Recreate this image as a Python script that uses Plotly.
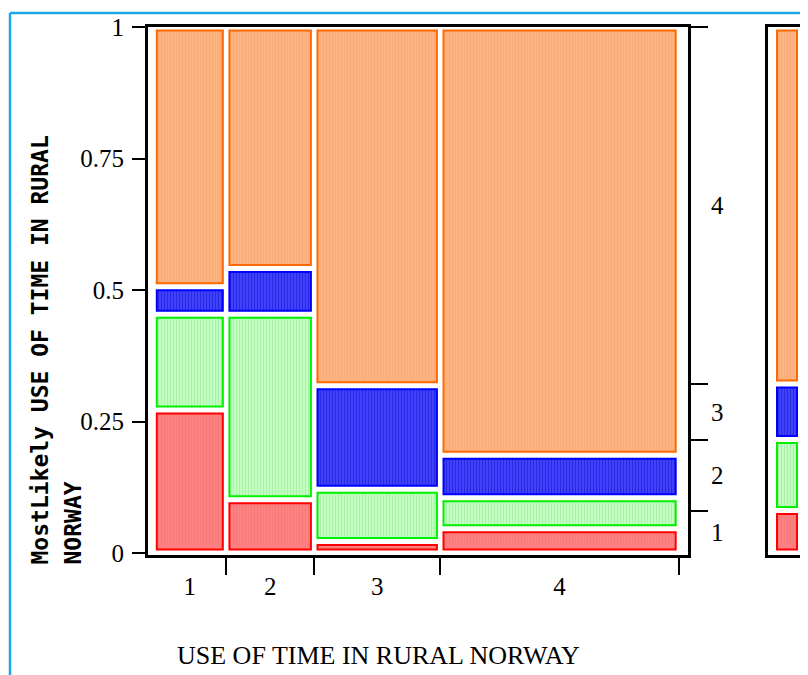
import plotly.graph_objects as go

W, H = 808, 675
OFF = 8  # page body margin offset (figure is drawn 8px in from the corner)

# ---------------- data ----------------
col_labels = ["1", "2", "3", "4"]               # x categories (USE OF TIME IN RURAL NORWAY)
col_share = [0.1382, 0.1676, 0.2398, 0.4544]    # column widths (share of observations)
level_labels = ["1", "2", "3", "4"]             # MostLikely levels
prop_level1 = [0.272, 0.101, 0.022, 0.046]
prop_level2 = [0.182, 0.353, 0.099, 0.059]
prop_level3 = [0.052, 0.087, 0.197, 0.081]
prop_level4 = [0.494, 0.459, 0.682, 0.814]
y_ticks = [0, 0.25, 0.5, 0.75, 1]
y_ticktext = ["0", "0.25", "0.5", "0.75", "1"]

levels = [prop_level1, prop_level2, prop_level3, prop_level4]
fill_colors = ["#FF8080", "#C0FFC0", "#4040FF", "#FFB380"]
line_colors = ["#FF0000", "#00F000", "#0000FF", "#FF6A00"]
pattern_fg = ["#F57A7A", "#ABF0AB", "#2A2ADC", "#F7AC7A"]


def fx(px):
    return (px - OFF) / W


def fy(py):
    return 1 - (py - OFF) / H


# plot geometry (target screen pixels)
X0, X1 = 148, 688          # main plot area
Y_TOP, Y_BOT = 27, 555
DATA_X0, DATA_X1 = 153.5, 679.0
PXX = DATA_X1 - DATA_X0
PXY = 526.0
xr = [-(DATA_X0 - X0) / PXX, 1 + (X1 - DATA_X1) / PXX]
yr = [-(Y_BOT - 553) / PXY, 1.0]
ix = 3.3 / PXX
iy = 3.5 / PXY

# column boundaries / centers
bounds = []
acc = 0.0
for s in col_share:
    acc += s
    bounds.append(acc)
lefts = [b - s for b, s in zip(bounds, col_share)]
centers = [l + s / 2 for l, s in zip(lefts, col_share)]

# marginal distribution of levels
marg = [sum(p * s for p, s in zip(lv, col_share)) for lv in levels]
marg_cum = []
acc = 0.0
for m in marg:
    acc += m
    marg_cum.append(acc)
marg_low = [c - m for c, m in zip(marg_cum, marg)]
marg_mid = [lo + m / 2 for lo, m in zip(marg_low, marg)]

fig = go.Figure()

cum_low = [0.0] * len(col_share)
for k, lv in enumerate(levels):
    bases = [lo + iy for lo in cum_low]
    heights = [p - 2 * iy for p in lv]
    widths = [s - 2 * ix for s in col_share]
    fig.add_trace(go.Bar(
        x=centers, y=heights, base=bases, width=widths,
        marker=dict(color=fill_colors[k], line=dict(color=line_colors[k], width=2),
                    pattern=dict(shape="|", fgcolor=pattern_fg[k], bgcolor=fill_colors[k],
                                 size=3, solidity=0.35)),
        xaxis="x", yaxis="y", hoverinfo="skip", showlegend=False,
    ))
    cum_low = [lo + p for lo, p in zip(cum_low, lv)]

# marginal bar
for k in range(len(levels)):
    fig.add_trace(go.Bar(
        x=[0.5], y=[marg[k] - 2 * iy], base=[marg_low[k] + iy], width=[0.526],
        marker=dict(color=fill_colors[k], line=dict(color=line_colors[k], width=2),
                    pattern=dict(shape="|", fgcolor=pattern_fg[k], bgcolor=fill_colors[k],
                                 size=3, solidity=0.35)),
        xaxis="x3", yaxis="y4", hoverinfo="skip", showlegend=False,
    ))

# placeholder traces so overlay axes are drawn
fig.add_trace(go.Scatter(x=[None], y=[None], xaxis="x2", yaxis="y", showlegend=False, hoverinfo="skip"))
fig.add_trace(go.Scatter(x=[None], y=[None], xaxis="x", yaxis="y2", showlegend=False, hoverinfo="skip"))
fig.add_trace(go.Scatter(x=[None], y=[None], xaxis="x", yaxis="y3", showlegend=False, hoverinfo="skip"))

serif = "Liberation Serif"
xdom = [fx(X0), fx(X1)]
ydom = [fy(Y_BOT), fy(Y_TOP)]
common = dict(automargin=False, showgrid=False, zeroline=False)

fig.update_layout(
    template="none",
    width=W, height=H,
    margin=dict(l=0, r=0, t=0, b=0, pad=0, autoexpand=False),
    paper_bgcolor="white", plot_bgcolor="white",
    barmode="overlay", showlegend=False,
    xaxis=dict(domain=xdom, range=xr, anchor="y", tickvals=bounds, ticktext=[""] * len(bounds),
               ticks="outside", ticklen=17, tickwidth=2, tickcolor="black",
               showline=True, linewidth=3, linecolor="black", mirror=True, **common),
    xaxis2=dict(overlaying="x", anchor="y", side="bottom", range=xr, tickvals=centers,
                ticktext=col_labels, ticks="outside", ticklen=9, tickcolor="rgba(0,0,0,0)",
                tickfont=dict(family=serif, size=25, color="black"),
                showline=False, **common),
    yaxis=dict(domain=ydom, range=yr, anchor="x", tickvals=y_ticks, ticktext=y_ticktext,
               ticks="outside", ticklen=13, tickwidth=2, tickcolor="black",
               ticklabelstandoff=3,
               tickfont=dict(family=serif, size=25, color="black"),
               showline=True, linewidth=3, linecolor="black", **common),
    yaxis2=dict(overlaying="y", anchor="x", side="right", range=yr,
                tickvals=marg_cum[:-1] + [1.0], showticklabels=False,
                ticks="outside", ticklen=17, tickwidth=2, tickcolor="black",
                showline=True, linewidth=3, linecolor="black", **common),
    yaxis3=dict(overlaying="y", anchor="x", side="right", range=yr,
                tickvals=marg_mid, ticktext=level_labels,
                ticks="outside", ticklen=17, tickcolor="rgba(0,0,0,0)",
                tickfont=dict(family=serif, size=25, color="black"),
                showline=False, **common),
    xaxis3=dict(domain=[fx(768), fx(806)], range=[0, 1], anchor="y4",
                showline=True, mirror=True, linewidth=3, linecolor="black",
                ticks="", showticklabels=False, **common),
    yaxis4=dict(domain=ydom, range=yr, anchor="x3",
                showline=True, mirror=True, linewidth=3, linecolor="black",
                ticks="", showticklabels=False, **common),
)

mono = dict(family="DejaVu Sans Mono", size=23, color="black", weight="bold")
fig.add_annotation(text="MostLikely USE OF TIME IN RURAL", textangle=-90,
                   xref="paper", yref="paper", x=fx(39), y=fy(567),
                   xanchor="center", yanchor="bottom", showarrow=False, font=mono)
fig.add_annotation(text="NORWAY", textangle=-90,
                   xref="paper", yref="paper", x=fx(72), y=fy(567),
                   xanchor="center", yanchor="bottom", showarrow=False, font=mono)
fig.add_annotation(text="USE OF TIME IN RURAL NORWAY",
                   xref="paper", yref="paper", x=fx(378), y=fy(655),
                   xanchor="center", yanchor="middle", showarrow=False,
                   font=dict(family=serif, size=26, color="black"))

border = "#1CA6E6"
fig.add_shape(type="line", xref="paper", yref="paper", x0=fx(10), y0=fy(13), x1=1, y1=fy(13),
              line=dict(color=border, width=2.5))
fig.add_shape(type="line", xref="paper", yref="paper", x0=fx(10), y0=fy(13), x1=fx(10), y1=0,
              line=dict(color=border, width=2.5))

fig.write_html("out.html")
